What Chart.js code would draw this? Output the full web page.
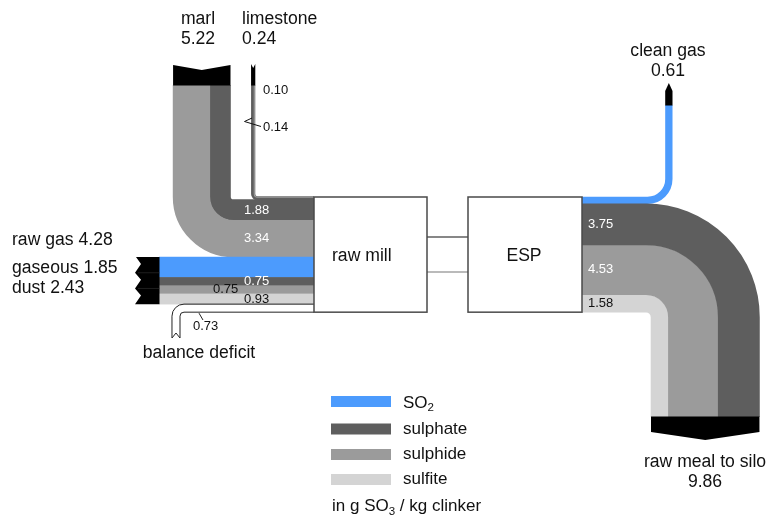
<!DOCTYPE html>
<html>
<head>
<meta charset="utf-8">
<script src="https://cdn.jsdelivr.net/npm/chart.js@4/dist/chart.umd.min.js"></script>
<style>
  html, body { margin: 0; padding: 0; background: #fff; }
  #wrap { width: 782px; height: 517px; }
</style>
</head>
<body>
<div id="wrap"><canvas id="c" width="782" height="517"></canvas></div>
<script>
// SO3 balance around raw mill and ESP, in g SO3 per kg clinker
// order of every flow array: SO2, sulphate, sulphide, sulfite
const species = ['SO2', 'sulphate', 'sulphide', 'sulfite'];
const marl = [0, 1.88, 3.34, 0];
const limestone = [0, 0.14, 0.10, 0];
const rawGas = [1.85, 0.75, 0.75, 0.93];
const balanceDeficit = [0.73];
const cleanGas = [0.61, 0, 0, 0];
const rawMeal = [0, 3.75, 4.53, 1.58];

const speciesColors = ['#4c9bfd', '#5e5e5e', '#9b9b9b', '#d4d4d4'];
const PX_PER_UNIT = 11;
const FONT = '"Liberation Sans", Arial, Helvetica, sans-serif';
const LABEL_SIZE = 17.6;
const VALUE_SIZE = 13;

const sum = a => a.reduce((s, v) => s + v, 0);
const fmt = v => v.toFixed(2);

const sankeyPlugin = {
  id: 'sankey',
  afterDraw(chart) {
    const ctx = chart.ctx;
    const xs = chart.scales.x, ys = chart.scales.y;
    const X = v => xs.getPixelForValue(v);
    const Y = v => ys.getPixelForValue(v);
    // thickness of a band carrying a flow value
    const T = v => Math.abs(ys.getPixelForValue(v * PX_PER_UNIT) - ys.getPixelForValue(0));

    const mill = { l: X(314), r: X(427), t: Y(197) };
    const esp = { l: X(468), r: X(582), t: Y(197) };
    const millIn = sum(limestone) + sum(marl) + sum(rawGas) + sum(balanceDeficit);
    const espOut = sum(cleanGas) + sum(rawMeal);
    mill.b = mill.t + T(millIn);
    esp.b = esp.t + T(espOut);

    ctx.save();

    // stacked bands following a straight run, a quarter bend and another straight run
    function bendStack(values, order, cx, cy, r0, sx, sy, verticalFirst, from, to) {
      let r = r0;
      order.forEach(i => {
        const v = values[i];
        if (!v) return;
        const w = T(v);
        const rc = r + w / 2;
        const hy = cy + sy * rc;     // horizontal run y
        const vx = cx + sx * rc;     // vertical run x
        ctx.beginPath();
        if (verticalFirst) {
          ctx.moveTo(vx, from);
          ctx.arcTo(vx, hy, to, hy, rc);
          ctx.lineTo(to, hy);
        } else {
          ctx.moveTo(from, hy);
          ctx.arcTo(vx, hy, vx, to, rc);
          ctx.lineTo(vx, to);
        }
        ctx.lineWidth = w + 0.6;
        ctx.lineCap = 'butt';
        ctx.strokeStyle = speciesColors[i];
        ctx.stroke();
        r += w;
      });
      return r;
    }

    // ---- limestone feed (thin, outlined) ----
    const limeInnerX = X(254.5);
    const limeR0 = 3;
    const limeCx = limeInnerX + limeR0, limeCy = mill.t - limeR0;
    const limeW = T(sum(limestone));
    (function () {
      const rc = limeR0 + limeW / 2;
      ctx.beginPath();
      ctx.moveTo(limeCx - rc, Y(85));
      ctx.arcTo(limeCx - rc, limeCy + rc, mill.l, limeCy + rc, rc);
      ctx.lineTo(mill.l, limeCy + rc);
      ctx.lineWidth = limeW + 1.6;
      ctx.strokeStyle = '#6a6a6a';
      ctx.stroke();
    })();
    bendStack(limestone, [2, 1], limeCx, limeCy, limeR0, -1, 1, true, Y(85), mill.l);

    // ---- marl feed ----
    const marlInnerX = X(230.5);
    const marlR0 = 3;
    const marlTop = mill.t + T(sum(limestone));
    const marlCx = marlInnerX + marlR0, marlCy = marlTop - marlR0;
    bendStack(marl, [1, 2], marlCx, marlCy, marlR0, -1, 1, true, Y(85), mill.l);

    // ---- raw gas ----
    const gasLeft = X(159);
    let y = marlTop + T(sum(marl));
    const gasTop = y;
    rawGas.forEach((v, i) => {
      const w = T(v);
      ctx.fillStyle = speciesColors[i];
      ctx.fillRect(gasLeft, y - 0.3, mill.l - gasLeft, w + 0.6);
      y += w;
    });
    const gasBottom = y;

    // ---- balance deficit (outline only) ----
    const defW = T(sum(balanceDeficit));
    const defR0 = 4;
    const defInnerX = X(180);
    const defCx = defInnerX + defR0, defCy = gasBottom + defW + defR0;
    const defEnd = Y(338);
    ctx.strokeStyle = '#222';
    ctx.lineWidth = 1;
    [defR0, defR0 + defW].forEach(r => {
      ctx.beginPath();
      ctx.moveTo(mill.l, defCy - r);
      ctx.arcTo(defCx - r, defCy - r, defCx - r, defEnd, r);
      ctx.lineTo(defCx - r, defEnd);
      ctx.stroke();
    });
    ctx.beginPath();
    ctx.moveTo(defCx - defR0 - defW, defEnd);
    ctx.lineTo(defCx - defR0 - defW / 2, defEnd - 5);
    ctx.lineTo(defCx - defR0, defEnd);
    ctx.stroke();
    ctx.beginPath();
    ctx.moveTo(X(199), defCy - defR0 + 1);
    ctx.lineTo(X(203), Y(320));
    ctx.stroke();

    // ---- clean gas ----
    const cgR0 = 18;
    const cgInnerX = X(665.5);
    const cgCx = cgInnerX - cgR0, cgCy = esp.t - cgR0;
    const cgEnd = Y(105);
    bendStack(cleanGas, [0], cgCx, cgCy, cgR0, 1, 1, false, esp.r, cgEnd);

    // ---- raw meal to silo ----
    const rmR0 = 5;
    const rmInnerX = X(651);
    const rmCx = rmInnerX - rmR0, rmCy = esp.b + rmR0;
    const rmEnd = Y(417);
    bendStack(rawMeal, [3, 2, 1], rmCx, rmCy, rmR0, 1, -1, false, esp.r, rmEnd);

    // ---- heads (black ends) ----
    ctx.fillStyle = '#000';
    function tailTop(x0, x1, yTop, yBot, depth) {
      ctx.beginPath();
      ctx.moveTo(x0, yTop);
      ctx.lineTo((x0 + x1) / 2, yTop + depth);
      ctx.lineTo(x1, yTop);
      ctx.lineTo(x1, yBot);
      ctx.lineTo(x0, yBot);
      ctx.closePath();
      ctx.fill();
    }
    const marlW = T(sum(marl));
    tailTop(marlCx - marlR0 - marlW, marlCx - marlR0, Y(65), Y(85) + 0.5, 5);
    tailTop(limeCx - limeR0 - limeW - 0.8, limeCx - limeR0 + 0.8, Y(64), Y(85) + 0.5, 4);

    // raw gas tail with three notches
    (function () {
      const x0 = X(136), x1 = gasLeft + 0.5;
      const h = gasBottom - gasTop;
      ctx.beginPath();
      ctx.moveTo(x1, gasTop);
      ctx.lineTo(x0, gasTop);
      for (let k = 0; k < 3; k++) {
        const a = gasTop + h * k / 3, b = gasTop + h * (k + 1) / 3;
        ctx.lineTo(x0 + 5, a + (b - a) * 0.45);
        ctx.lineTo(x0 - 1, b);
      }
      ctx.lineTo(x1, gasBottom);
      ctx.closePath();
      ctx.fill();
      ctx.strokeStyle = '#333';
      ctx.lineWidth = 0.6;
      for (let k = 1; k < 3; k++) {
        const yy = gasTop + h * k / 3;
        ctx.beginPath(); ctx.moveTo(x0 + 2, yy); ctx.lineTo(x1, yy); ctx.stroke();
      }
    })();

    // clean gas arrow head
    (function () {
      const x0 = cgInnerX - 0.3, x1 = cgInnerX + T(sum(cleanGas)) + 0.3;
      ctx.beginPath();
      ctx.moveTo(x0, cgEnd + 0.5);
      ctx.lineTo(x0, Y(91));
      ctx.lineTo((x0 + x1) / 2, Y(83));
      ctx.lineTo(x1, Y(91));
      ctx.lineTo(x1, cgEnd + 0.5);
      ctx.closePath();
      ctx.fill();
    })();

    // raw meal arrow head
    (function () {
      const x0 = rmInnerX, x1 = rmInnerX + T(sum(rawMeal));
      ctx.beginPath();
      ctx.moveTo(x0, rmEnd - 0.5);
      ctx.lineTo(x1, rmEnd - 0.5);
      ctx.lineTo(x1, Y(432));
      ctx.lineTo((x0 + x1) / 2, Y(440));
      ctx.lineTo(x0, Y(432));
      ctx.closePath();
      ctx.fill();
    })();

    // ---- mill to ESP link ----
    ctx.lineWidth = 1.2;
    ctx.strokeStyle = '#111';
    ctx.beginPath(); ctx.moveTo(mill.r, Y(237)); ctx.lineTo(esp.l, Y(237)); ctx.stroke();
    ctx.strokeStyle = '#777';
    ctx.beginPath(); ctx.moveTo(mill.r, Y(272)); ctx.lineTo(esp.l, Y(272)); ctx.stroke();

    // ---- process boxes ----
    ctx.lineWidth = 1.5;
    ctx.strokeStyle = '#4a4a4a';
    [mill, esp].forEach(b => {
      ctx.fillStyle = '#fff';
      ctx.fillRect(b.l, b.t, b.r - b.l, b.b - b.t);
      ctx.strokeRect(b.l, b.t, b.r - b.l, b.b - b.t);
    });

    // ---- texts ----
    function text(s, x, yy, size, color, align) {
      ctx.font = size + 'px ' + FONT;
      ctx.fillStyle = color || '#111';
      ctx.textAlign = align || 'left';
      ctx.textBaseline = 'middle';
      ctx.fillText(s, x, yy);
    }
    function textSub(parts, x, yy, size, color) {
      ctx.textBaseline = 'alphabetic';
      ctx.textAlign = 'left';
      ctx.fillStyle = color || '#111';
      let cx = x;
      const base = yy + size * 0.36;
      parts.forEach(([s, sub]) => {
        const fs = sub ? size * 0.68 : size;
        ctx.font = fs + 'px ' + FONT;
        ctx.fillText(s, cx, sub ? base + size * 0.2 : base);
        cx += ctx.measureText(s).width;
      });
    }

    const L = LABEL_SIZE, V = VALUE_SIZE;
    text('raw mill', X(332), Y(256), L);
    text('ESP', X(524), Y(256), L, '#111', 'center');

    text('marl', X(198), Y(19), L, '#111', 'center');
    text(fmt(sum(marl)), X(198), Y(39), L, '#111', 'center');
    text('limestone', X(242), Y(19), L);
    text(fmt(sum(limestone)), X(242), Y(39), L);

    text('raw gas ' + fmt(sum(rawGas)), X(12), Y(240), L);
    text('gaseous ' + fmt(rawGas[0]), X(12), Y(268), L);
    text('dust ' + fmt(sum(rawGas.slice(1))), X(12), Y(288), L);

    text('balance deficit', X(199), Y(353), L, '#111', 'center');
    text(fmt(balanceDeficit[0]), X(193), Y(326), V);

    text('clean gas', X(668), Y(51), L, '#111', 'center');
    text(fmt(sum(cleanGas)), X(668), Y(71), L, '#111', 'center');

    text('raw meal to silo', X(705), Y(462), L, '#111', 'center');
    text(fmt(sum(rawMeal)), X(705), Y(482), L, '#111', 'center');

    // values on the bands
    const bandMid = (start, arr, i) => start + T(sum(arr.slice(0, i))) + T(arr[i]) / 2;
    text(fmt(marl[1]), X(244), marlTop + T(marl[1]) / 2, V, '#fff');
    text(fmt(marl[2]), X(244), marlTop + T(marl[1]) + T(marl[2]) / 2, V, '#fff');
    text(fmt(rawGas[1]), X(244), bandMid(gasTop, rawGas, 1), V, '#fff');
    text(fmt(rawGas[2]), X(213), bandMid(gasTop, rawGas, 2), V, '#111');
    text(fmt(rawGas[3]), X(244), bandMid(gasTop, rawGas, 3), V, '#111');

    const rmTop = esp.t + T(sum(cleanGas));
    text(fmt(rawMeal[1]), X(588), bandMid(rmTop, rawMeal, 1), V, '#fff');
    text(fmt(rawMeal[2]), X(588), bandMid(rmTop, rawMeal, 2), V, '#fff');
    text(fmt(rawMeal[3]), X(588), bandMid(rmTop, rawMeal, 3), V, '#111');

    text(fmt(limestone[2]), X(263), Y(90), V);
    text(fmt(limestone[1]), X(263), Y(127), V);
    ctx.strokeStyle = '#111';
    ctx.lineWidth = 1;
    ctx.beginPath();
    ctx.moveTo(X(252), Y(118));
    ctx.lineTo(X(244.5), Y(121.5));
    ctx.lineTo(X(261), Y(126.5));
    ctx.stroke();

    // ---- legend ----
    const legendRows = [Y(401.5), Y(429), Y(454.5), Y(479.5)];
    species.forEach((s, i) => {
      ctx.fillStyle = speciesColors[i];
      ctx.fillRect(X(331), legendRows[i] - 5.5, 60, 11);
      if (s === 'SO2') textSub([['SO', false], ['2', true]], X(403), legendRows[i], 17);
      else text(s, X(403), legendRows[i], 17);
    });
    textSub([['in g SO', false], ['3', true], [' / kg clinker', false]], X(332), Y(505), 17);

    ctx.restore();
  }
};

new Chart(document.getElementById('c'), {
  type: 'scatter',
  data: { datasets: [] },
  options: {
    responsive: false,
    animation: false,
    events: [],
    layout: { padding: 0 },
    plugins: { legend: { display: false }, tooltip: { enabled: false } },
    scales: {
      x: { type: 'linear', min: 0, max: 782, display: false },
      y: { type: 'linear', min: 0, max: 517, reverse: true, display: false }
    }
  },
  plugins: [sankeyPlugin]
});
</script>
</body>
</html>
